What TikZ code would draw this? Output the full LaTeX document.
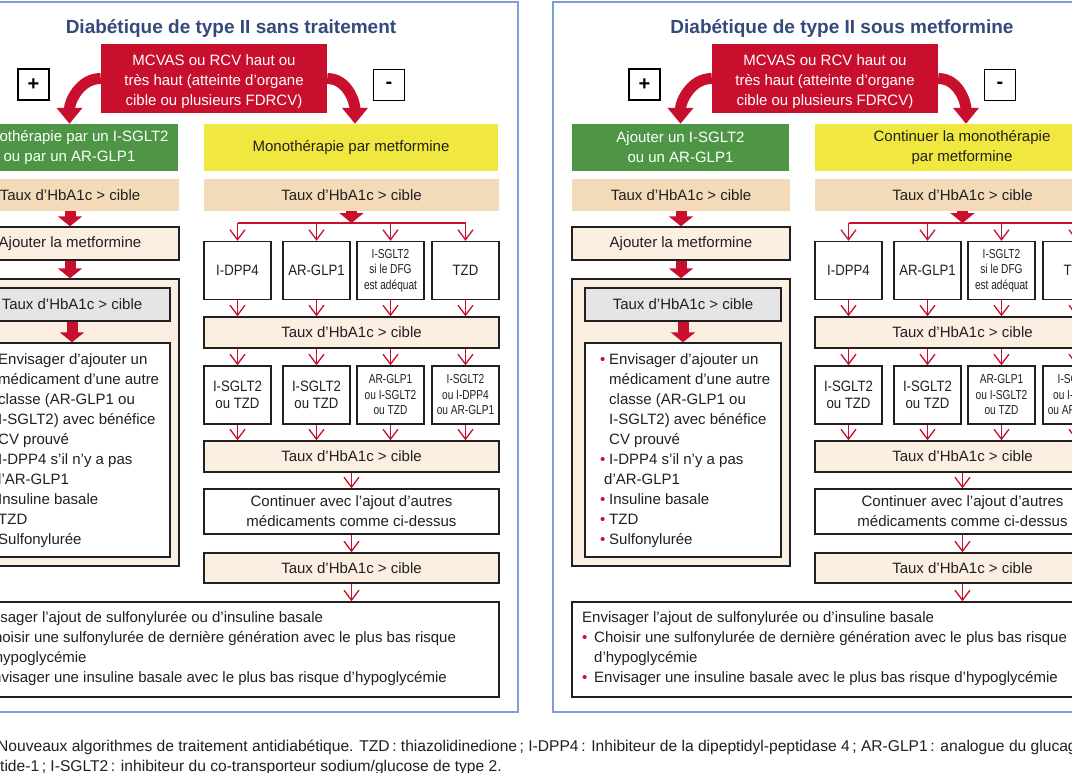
\documentclass[tikz,border=0pt]{standalone}
\usepackage{fontspec}
\setmainfont{Liberation Sans}
\newfontfamily\condfont[FakeStretch=0.78]{Liberation Sans}
\newfontfamily\semicond[FakeStretch=0.88]{Liberation Sans}
\usetikzlibrary{arrows.meta}
\definecolor{cframe}{RGB}{125,160,212}
\definecolor{ctitle}{RGB}{52,74,122}
\definecolor{cred}{RGB}{200,16,46}
\definecolor{cgreen}{RGB}{78,150,70}
\definecolor{cyellow}{RGB}{240,232,62}
\definecolor{ctan}{RGB}{243,219,186}
\definecolor{cpale}{RGB}{251,239,226}
\definecolor{cgray}{RGB}{229,229,229}
\definecolor{cink}{RGB}{35,31,32}

\newcommand{\rb}[1][9pt]{\makebox[#1][l]{\textcolor{cred}{\textbullet}}}

% one panel of the algorithm, in local coordinates (1pt = 1px)
\newcommand{\algopanel}[4]{%
  \draw[frame] (-58,2) rectangle (518,712);
  \node[ttl] (#1-title) at (231,28) {#2};
  \node[redbox] (#1-mcv) at (214,78.5) {};
  \node[redtxt] (#1-mcvtxt) at (214,81.5) {MCVAS ou RCV haut ou\\très haut (atteinte d'organe\\cible ou plusieurs FDRCV)};
  \node[signbox] (#1-plus) at (33.5,84.5) {+};
  \node[signbox] (#1-minus) at (389,85) {-};
  % left column
  \node[flag, minimum width=217pt] (#1-flag) at (69.5,147.5) {#3};
  \node[hbtan, minimum width=218pt] (#1-hbL) at (70,195) {Taux d'HbA1c > cible};
  \node[hbbox, minimum width=218pt, minimum height=33pt] (#1-addmet) at (70,243.5) {Ajouter la metformine};
  \node[hbbox, minimum width=218pt, minimum height=287pt] (#1-outer) at (70,422.5) {};
  \node[hbbox, fill=cgray, minimum width=196pt, minimum height=33pt] (#1-gray) at (72,304.5) {Taux d'HbA1c > cible};
  \node[choice, minimum width=196pt, minimum height=214pt] (#1-list) at (72,450) {};
  \node[anchor=north west, align=left, inner sep=0pt] (#1-listtxt) at (-11,353)
    {\rb Envisager d'ajouter un\\
     \hspace*{9pt}médicament d'une autre\\
     \hspace*{9pt}classe (AR-GLP1 ou\\
     \hspace*{9pt}I-SGLT2) avec bénéfice\\
     \hspace*{9pt}CV prouvé\\
     \rb I-DPP4 s'il n'y a pas\\
     \hspace*{4pt}d'AR-GLP1\\
     \rb Insuline basale\\
     \rb TZD\\
     \rb Sulfonylurée};
  % right column
  \node[mono, minimum width=294pt] (#1-mono) at (351,147.5) {#4};
  \node[hbtan, minimum width=295pt] (#1-hbR) at (351.5,195) {Taux d'HbA1c > cible};
  \coordinate (#1-split) at (351.5,223);
  \node[pick] (#1-a1) at (237.5,270.5) {I-DPP4};
  \node[pick] (#1-a2) at (316.5,270.5) {AR-GLP1};
  \node[narrow] (#1-a3) at (390.5,270.5) {I-SGLT2\\si le DFG\\est adéquat};
  \node[pick] (#1-a4) at (465.5,270.5) {TZD};
  \node[hbbox, minimum width=295pt, minimum height=31pt] (#1-hb1) at (351.5,332.5) {Taux d'HbA1c > cible};
  \node[pick] (#1-b1) at (237.5,395) {I-SGLT2\\ou TZD};
  \node[pick] (#1-b2) at (316.5,395) {I-SGLT2\\ou TZD};
  \node[narrow] (#1-b3) at (390.5,395) {AR-GLP1\\ou I-SGLT2\\ou TZD};
  \node[narrow] (#1-b4) at (465.5,395) {I-SGLT2\\ou I-DPP4\\ou AR-GLP1};
  \node[hbbox, minimum width=295pt, minimum height=31pt] (#1-hb2) at (351.5,456.5) {Taux d'HbA1c > cible};
  \node[choice, minimum width=295pt, minimum height=45pt] (#1-cont) at (351.5,511.5) {Continuer avec l'ajout d'autres\\médicaments comme ci-dessus};
  \node[hbbox, minimum width=295pt, minimum height=30pt] (#1-hb3) at (351.5,568) {Taux d'HbA1c > cible};
  % bottom box
  \node[choice, minimum width=538pt, minimum height=95pt] (#1-final) at (230,649.5) {};
  \node[anchor=north west, align=left, inner sep=0pt] (#1-finaltxt) at (-29,611)
    {Envisager l'ajout de sulfonylurée ou d'insuline basale\\
     \rb[12pt]Choisir une sulfonylurée de dernière génération avec le plus bas risque\\
     \hspace*{12pt}d'hypoglycémie\\
     \rb[12pt]Envisager une insuline basale avec le plus bas risque d'hypoglycémie};
  % arrows
  \draw[bendarr] (#1-mcv.west) to[out=180,in=90] (#1-flag.north);
  \draw[bendarr] (#1-mcv.east) to[out=0,in=90] ([xshift=4pt]#1-mono.north);
  \draw[bigarr] (#1-hbL.south) -- (#1-addmet.north);
  \draw[bigarr] (#1-addmet.south) -- (#1-outer.north);
  \draw[bigarr] (#1-gray.south) -- (#1-list.north);
  \draw[bigarr] (#1-hbR.south) -- (#1-split);
  \draw[redline] (#1-a1.north |- #1-split) -- (#1-a4.north |- #1-split);
  \foreach \i in {1,...,4} {
    \draw[thinarr] (#1-a\i.north |- #1-split) -- (#1-a\i.north);
    \draw[thinarr] (#1-a\i.south) -- (#1-a\i.south |- #1-hb1.north);
    \draw[thinarr] (#1-b\i.north |- #1-hb1.south) -- (#1-b\i.north);
    \draw[thinarr] (#1-b\i.south) -- (#1-b\i.south |- #1-hb2.north);
  }
  \draw[thinarr] (#1-hb2.south) -- (#1-cont.north);
  \draw[thinarr] (#1-cont.south) -- (#1-hb3.north);
  \draw[thinarr] (#1-hb3.south) -- (#1-final.north -| #1-hb3.south);
}

\begin{document}
\begin{tikzpicture}[x=1pt, y=-1pt,
    font=\fontsize{15}{20}\selectfont, text=cink,
    frame/.style={draw=cframe, line width=2pt},
    ttl/.style={font=\fontsize{19}{22}\selectfont\bfseries, text=ctitle},
    redbox/.style={fill=cred, minimum width=226pt, minimum height=69pt, inner sep=0pt},
    redtxt/.style={text=white, align=center, inner sep=0pt},
    signbox/.style={draw=black, line width=1.2pt, fill=white, minimum size=31pt,
      inner sep=0pt, font=\fontsize{20}{20}\selectfont\bfseries, text=black},
    flag/.style={fill=cgreen, text=white, align=center, minimum height=47pt, inner sep=0pt},
    mono/.style={fill=cyellow, align=center, minimum height=47pt, inner sep=0pt},
    hbtan/.style={fill=ctan, minimum height=32pt, inner sep=0pt},
    hbbox/.style={draw=cink, line width=1.4pt, fill=cpale, inner sep=0pt},
    choice/.style={draw=cink, line width=1.4pt, fill=white, align=center, inner sep=0pt},
    pick/.style={choice, minimum width=67pt, minimum height=58pt,
      font=\semicond\fontsize{15}{17.5}\selectfont},
    narrow/.style={pick, font=\condfont\fontsize{13}{15.5}\selectfont},
    bigarr/.style={cred, line width=11pt, -{Triangle[length=10pt,width=24pt]}},
    bendarr/.style={cred, line width=11pt, -{Triangle[length=16pt,width=25pt]}},
    thinarr/.style={cred, line width=1.3pt, -{Straight Barb[length=10pt,width=15pt]}},
    redline/.style={cred, line width=1.3pt},
    capt/.style={anchor=west, inner sep=0pt, font=\fontsize{15.6}{20}\selectfont}
  ]
  \useasboundingbox (0,0) rectangle (1072,772);
  \clip (0,0) rectangle (1072,772);
  \fill[white] (0,0) rectangle (1072,772);

  \algopanel{L}{Diabétique de type II sans traitement}{Monothérapie par un I-SGLT2\\ou par un AR-GLP1}{Monothérapie par metformine}
  \begin{scope}[shift={(611,0)}]
    \algopanel{R}{Diabétique de type II sous metformine}{Ajouter un I-SGLT2\\ou un AR-GLP1}{Continuer la monothérapie\\par metformine}
  \end{scope}

  \node[capt] (cap1) at (-3,747) {Nouveaux algorithmes de traitement antidiabétique. TZD\,: thiazolidinedione\,; I-DPP4\,: Inhibiteur de la dipeptidyl-peptidase 4\,; AR-GLP1\,: analogue du glucagon};
  \node[capt] (cap2) at (0,767) {tide-1\,; I-SGLT2\,: inhibiteur du co-transporteur sodium/glucose de type 2.};
\end{tikzpicture}
\end{document}
